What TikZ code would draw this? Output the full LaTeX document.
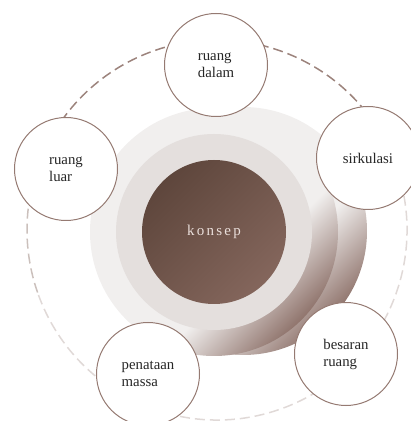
\documentclass[tikz,border=0pt]{standalone}
\usepackage{fontspec}
\setmainfont{Liberation Serif}
\newfontfamily\spacedfont[LetterSpace=15]{Liberation Serif}

\definecolor{rim}{HTML}{8A6D65}
\definecolor{halo}{HTML}{F1EFEE}
\definecolor{ringgrey}{HTML}{E4DFDD}
\definecolor{coreA}{HTML}{5E463C}
\definecolor{coreB}{HTML}{84665C}
\definecolor{coretext}{HTML}{EADFDB}
\definecolor{dashdark}{HTML}{9C837C}
\definecolor{dashmid}{HTML}{CBC0BC}
\definecolor{dashlight}{HTML}{E0D9D7}
\definecolor{edge}{HTML}{957A72}

\pgfdeclarehorizontalshading{rimfade}{100bp}{color(0bp)=(halo); color(60bp)=(halo); color(76bp)=(rim); color(100bp)=(rim)}

\begin{document}
\begin{tikzpicture}[x=1pt,y=1pt,
  topic/.style={circle,draw=edge,line width=1pt,fill=white,minimum size=103pt,
    inner sep=0pt,align=left,text=black!85,font=\fontsize{14.8}{17}\selectfont},
  orbitline/.style={dash pattern=on 10pt off 5pt,line width=1.5pt}]
  \useasboundingbox (0,0) rectangle (411,421);
  % dashed orbit behind everything
  \coordinate (orbit) at (217,191);
  \draw[orbitline,dashdark] (orbit) ++(20:190) arc[start angle=20,end angle=160,radius=190];
  \draw[orbitline,dashmid] (orbit) ++(160:190) arc[start angle=160,end angle=200,radius=190];
  \draw[orbitline,dashlight] (orbit) ++(200:190) arc[start angle=200,end angle=380,radius=190];
  % soft rings round the core
  \shade[shading=rimfade,shading angle=-45] (243,190) circle[radius=124];
  \shade[shading=rimfade,shading angle=-45] (214,189) circle[radius=124];
  \fill[ringgrey] (214,189) circle[radius=98];
  \node[circle,minimum size=144pt,inner sep=0pt,top color=coreA,bottom color=coreB,
    shading angle=45,text=coretext,font=\spacedfont\fontsize{15}{17}\selectfont]
    (konsep) at (214,189) {konsep};
  % topics
  \node[topic] (dalam) at (216,356) {ruang\\dalam};
  \node[topic] (sirkulasi) at (368,263) {sirkulasi};
  \node[topic] (luar) at (66,252) {ruang\\luar};
  \node[topic] (massa) at (148,47) {penataan\\massa};
  \node[topic] (besaran) at (346,67) {besaran\\ruang};
\end{tikzpicture}
\end{document}
